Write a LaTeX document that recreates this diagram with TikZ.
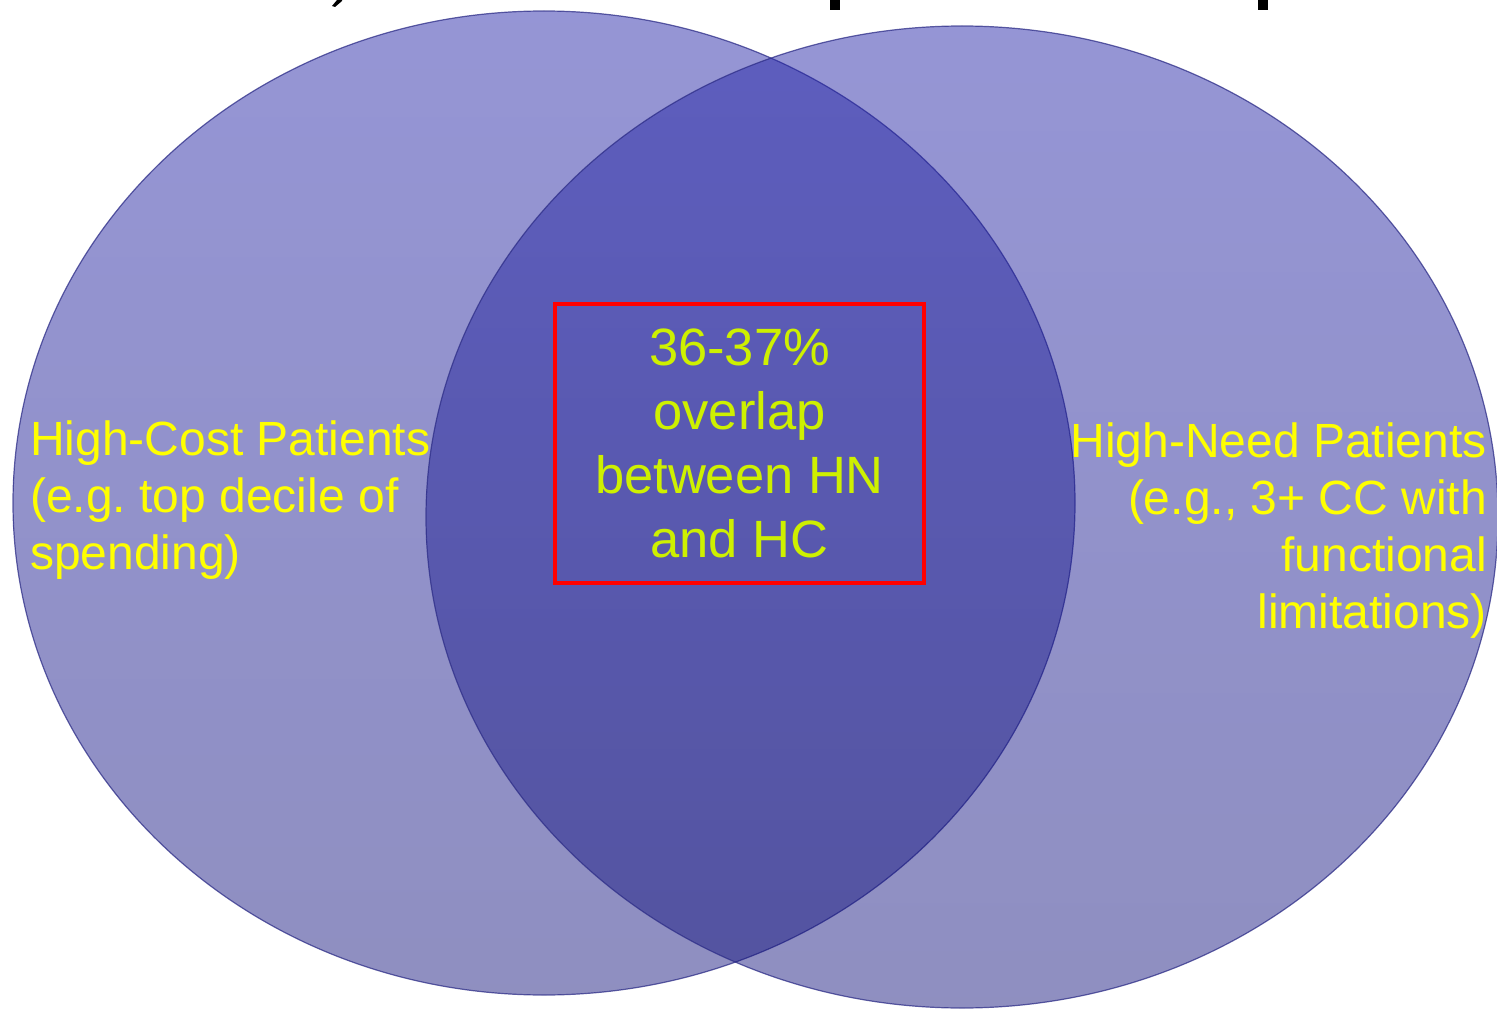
\documentclass[tikz,border=0pt]{standalone}
\usepackage{fontspec}
\setmainfont{Liberation Sans}
\frenchspacing
\definecolor{vennTop}{RGB}{34,34,167}
\definecolor{vennBot}{RGB}{20,20,124}
\definecolor{vennEdge}{RGB}{45,45,135}
\definecolor{sideYellow}{RGB}{255,255,0}
\definecolor{midLime}{RGB}{206,240,0}
\tikzset{
  vennset/.style={top color=vennTop, bottom color=vennBot, fill opacity=0.48,
    draw=vennEdge, draw opacity=0.75, line width=1.2pt},
  sidetext/.style={text=sideYellow, inner sep=0pt,
    font=\fontsize{48}{57}\selectfont},
  midtext/.style={text=midLime, inner sep=0pt, align=center,
    font=\fontsize{52.5}{64}\selectfont},
  redbox/.style={draw=red, line width=3.5pt, minimum width=369pt, minimum height=279pt},
  titleink/.style={fill=black, draw=none}
}
\begin{document}
\begin{tikzpicture}[x=1pt,y=-1pt]
\useasboundingbox (0,0) rectangle (1497,1011);
% cut-off title descenders
\fill[titleink] (332,6) -- (335,7) -- (342,1) -- (342,0) -- (337,0) -- cycle;
\fill[titleink] (830,0) rectangle (840,10);
\fill[titleink] (1258,0) rectangle (1268,10);
% Venn sets
\path[vennset] (544,503) ellipse [x radius=531, y radius=492];
\path[vennset] (962,517) ellipse [x radius=536, y radius=491];
% labels (base anchor = baseline of last line)
\node[sidetext, align=left, anchor=base west] (hc) at (30,569)
  {High-Cost Patients\\(e.g. top decile of\\spending)};
\node[sidetext, align=right, anchor=base east] (hn) at (1487,628)
  {High-Need Patients\\(e.g., 3+ CC with\\functional\\limitations)};
\node[redbox] (box) at (739.5,443.5) {};
\node[midtext] (ov) at (box.center) {36-37\%\\overlap\\between HN\\and HC};
\end{tikzpicture}
\end{document}
